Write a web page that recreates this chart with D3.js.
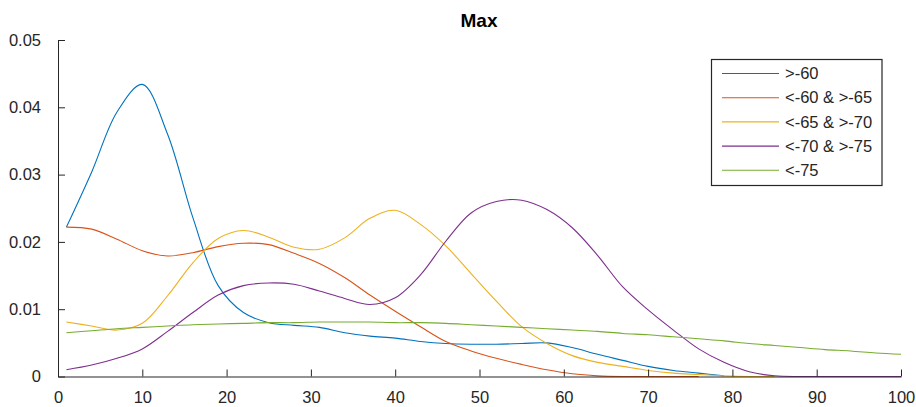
<!DOCTYPE html>
<html>
<head>
<meta charset="utf-8">
<script src="https://cdn.jsdelivr.net/npm/d3@7"></script>
<style>
  html, body { margin: 0; padding: 0; background: #fff; }
  svg { display: block; font-family: "Liberation Sans", Arial, Helvetica, sans-serif; }
</style>
</head>
<body>
<svg id="chart" width="916" height="407"></svg>
<script>
// ---- data ----
const title = "Max";
const seriesNames = [">-60", "<-60 & >-65", "<-65 & >-70", "<-70 & >-75", "<-75"];
const seriesColors = ["#0072BD", "#D95319", "#EDB120", "#7E2F8E", "#77AC30"];
const xValues = [1,4,7,10,13,16,19,22,25,28,31,34,37,40,43,46,49,52,55,58,61,64,67,70,73,76,79,82,85,88,91,94,97,100];

const s1 = [0.0222,0.0304,0.0393,0.0434,0.0360,0.0236,0.0135,0.0095,0.0080,0.0076,0.0073,0.0065,0.0060,0.0057,0.0052,0.0049,0.0048,0.0048,0.0049,0.0050,0.0043,0.0033,0.0024,0.0015,0.0009,0.0005,0.0001];
const s2 = [0.0222,0.0219,0.0204,0.0187,0.0179,0.0184,0.0193,0.0198,0.0196,0.0183,0.0168,0.0147,0.0121,0.0097,0.0074,0.0052,0.0038,0.0027,0.0018,0.0010,0.0004,0.0001,0,0,0,0];
const s3 = [0.0081,0.0075,0.0069,0.0079,0.0120,0.0169,0.0205,0.0217,0.0207,0.0192,0.0189,0.0206,0.0235,0.0247,0.0226,0.0194,0.0153,0.0112,0.0074,0.0049,0.0031,0.0021,0.0015,0.0009,0.0005,0.0003,0.0001,0,0];
const s4 = [0.0010,0.0017,0.0027,0.0041,0.0067,0.0095,0.0121,0.0135,0.0139,0.0137,0.0127,0.0116,0.0107,0.0117,0.0151,0.0201,0.0243,0.0260,0.0262,0.0248,0.0221,0.0180,0.0133,0.0099,0.0069,0.0041,0.0021,0.0007,0.0001,0,0,0,0,0];
const s5 = [0.0065,0.0068,0.0071,0.0073,0.0075,0.0077,0.0078,0.0079,0.0080,0.0080,0.0081,0.0081,0.0081,0.0080,0.0080,0.0079,0.0077,0.0075,0.0073,0.0071,0.0069,0.0067,0.0064,0.0062,0.0059,0.0056,0.0053,0.0049,0.0046,0.0043,0.0040,0.0038,0.0035,0.0033];
const seriesValues = [s1, s2, s3, s4, s5];

const xTicks = [0,10,20,30,40,50,60,70,80,90,100];
const yTicks = [0,0.01,0.02,0.03,0.04,0.05];
const yTickLabels = ["0","0.01","0.02","0.03","0.04","0.05"];

// ---- drawing ----
const ink = "#262626";
const svg = d3.select("#chart");
const x = d3.scaleLinear().domain([0, 100]).range([58, 901]);
const y = d3.scaleLinear().domain([0, 0.05]).range([376.5, 40]);

svg.append("defs").append("clipPath").attr("id", "plotclip")
  .append("rect")
  .attr("x", x(0)).attr("y", y(0.05))
  .attr("width", x(100) - x(0)).attr("height", y(0) - y(0.05) + 0.5);

// lines
const line = d3.line()
  .x(d => x(d[0]))
  .y(d => y(d[1]))
  .curve(d3.curveCatmullRom.alpha(0.5));

const plot = svg.append("g").attr("clip-path", "url(#plotclip)");
seriesValues.forEach((vals, i) => {
  const pts = vals.map((v, j) => [xValues[j], v]);
  plot.append("path")
    .attr("d", line(pts))
    .attr("fill", "none")
    .attr("stroke", seriesColors[i])
    .attr("stroke-width", 1.1);
});

// axes (MATLAB style: inward ticks)
const xAxis = svg.append("g").attr("transform", `translate(0,${y(0)})`)
  .call(d3.axisBottom(x).tickValues(xTicks).tickSizeInner(-7).tickSizeOuter(0).tickPadding(15));
const yAxis = svg.append("g").attr("transform", `translate(${x(0)},0)`)
  .call(d3.axisLeft(y).tickValues(yTicks).tickFormat((d, i) => yTickLabels[i]).tickSizeInner(-7).tickSizeOuter(0).tickPadding(17));

[xAxis, yAxis].forEach(g => {
  g.select(".domain").attr("stroke", ink).attr("stroke-width", 1);
  g.selectAll(".tick line").attr("stroke", ink).attr("stroke-width", 1);
  g.selectAll(".tick text").attr("fill", ink).style("font-size", "16.5px")
    .style("font-family", '"Liberation Sans", Arial, sans-serif');
});

// title
svg.append("text")
  .attr("x", 479).attr("y", 27)
  .attr("text-anchor", "middle")
  .attr("fill", "#000")
  .style("font-size", "19px")
  .style("font-weight", "bold")
  .text(title);

// legend
const lg = svg.append("g");
lg.append("rect")
  .attr("x", 711.5).attr("y", 59.5).attr("width", 170.5).attr("height", 126)
  .attr("fill", "#fff").attr("stroke", ink).attr("stroke-width", 1.2);
seriesNames.forEach((name, i) => {
  const cy = 73.5 + i * 24.2;
  lg.append("line")
    .attr("x1", 722).attr("x2", 779).attr("y1", cy).attr("y2", cy)
    .attr("stroke", seriesColors[i]).attr("stroke-width", 1.1);
  lg.append("text")
    .attr("x", 785).attr("y", cy).attr("dy", "0.35em")
    .attr("fill", ink)
    .style("font-size", "16.5px")
    .text(name);
});
</script>
</body>
</html>
